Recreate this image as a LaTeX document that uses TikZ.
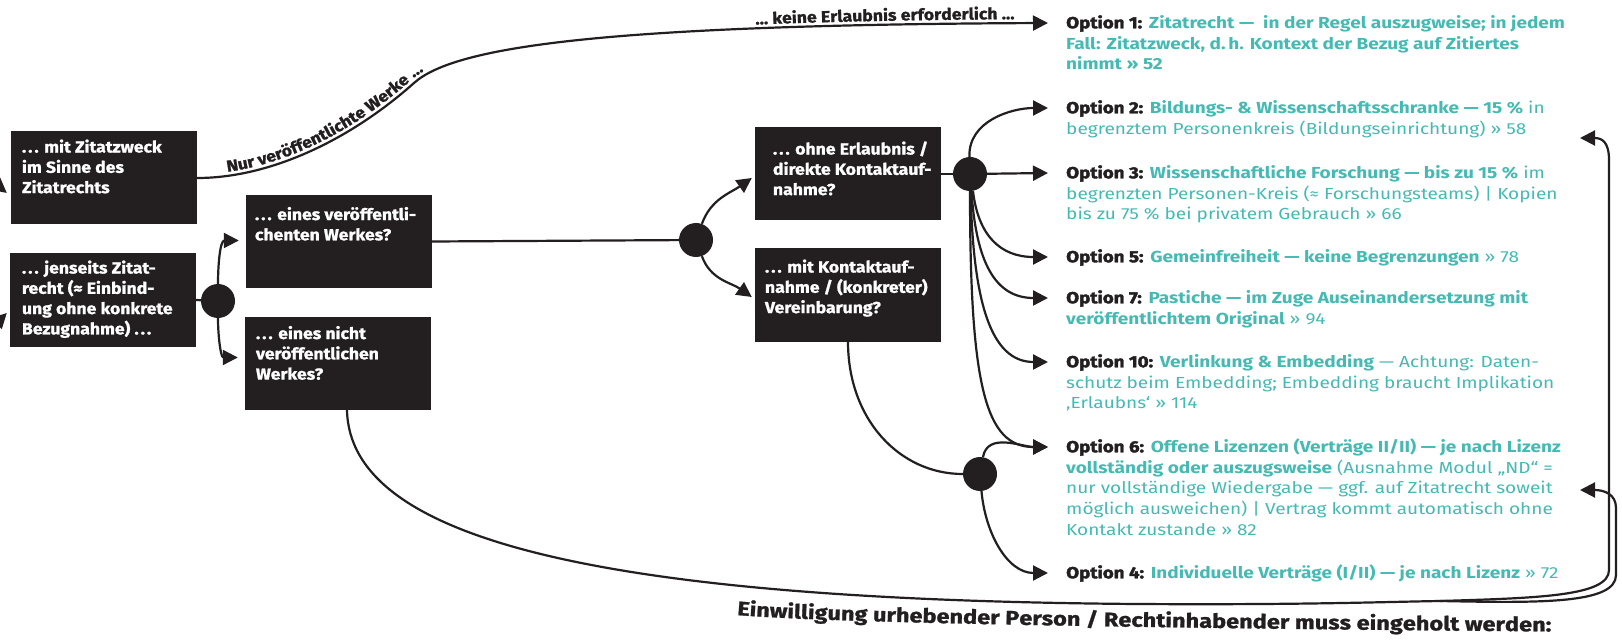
\documentclass[tikz,border=0pt]{standalone}
\usepackage{fontspec}
\setmainfont{Fira Sans}[UprightFeatures={FakeStretch=1.19}, BoldFeatures={FakeStretch=1.19}]
\newfontfamily\heavyfont{Fira Sans}[BoldFeatures={FakeStretch=1.17, FakeBold=2.5}]
\newfontfamily\boxfont{Fira Sans}[BoldFeatures={FakeStretch=1.10, FakeBold=1.2}]
\newfontfamily\widefont{Fira Sans}[BoldFeatures={FakeStretch=1.2, FakeBold=1.2}]
\usetikzlibrary{arrows.meta,decorations.text,calc}
\definecolor{ink}{HTML}{231F20}
\definecolor{tq}{HTML}{45BAB3}
\newcommand\lblfont{\color{ink}\boxfont\bfseries\fontsize{16}{19}\selectfont}
\newcommand\biglblfont{\color{ink}\widefont\bfseries\fontsize{19.6}{24}\selectfont}
\newcommand\onum[1]{{\color{ink}\heavyfont\bfseries #1}}
\newcommand\tb[1]{{\bfseries #1}}
\newcommand\ddd{.\kern2pt.\kern2pt.}
\tikzset{
  ln/.style={line width=2.2pt, draw=ink},
  conn/.style={ln, -{Triangle[length=15pt,width=15pt]}},
  box/.style={fill=ink, draw=none, minimum width=186pt, minimum height=93pt, inner sep=0pt},
  btxt/.style={anchor=north west, inner sep=0pt, align=left, text=white, font=\boxfont\bfseries\fontsize{16}{20.3}\selectfont},
  dot/.style={circle, fill=ink, minimum size=34pt, inner sep=0pt},
  opt/.style={anchor=north west, inner sep=0pt, align=left, text=tq, font=\fontsize{16}{20.8}\selectfont},
}
\begin{document}
\begin{tikzpicture}[x=1pt,y=1pt]
\fill[white] (0,0) rectangle (1622,-644);
\useasboundingbox (0,0) rectangle (1622,-644);

% boxes
\node[box] (A) at (104,-178) {};
\node[box] (B) at (103,-300) {};
\node[box] (C) at (339,-241.5) {};
\node[box] (D) at (338,-363.5) {};
\node[box] (E) at (848,-174) {};
\node[box] (F) at (848,-295) {};
\node[btxt] (At) at ([shift={(11,-6.8)}]A.north west) {\strut\ddd{} mit Zitatzweck\\im Sinne des\\Zitatrechts};
\node[btxt] (Bt) at ([shift={(12,-5.8)}]B.north west) {\strut\ddd{} jenseits Zitat-\\recht (≈ Einbind-\\ung ohne konkrete\\Bezugnahme) \ddd};
\node[btxt] (Ct) at ([shift={(9,-10.8)}]C.north west) {\strut\ddd{} eines veröffentli-\\chenten Werkes?};
\node[btxt] (Dt) at ([shift={(11,-7.8)}]D.north west) {\strut\ddd{} eines nicht\\veröffentlichen\\Werkes?};
\node[btxt] (Et) at ([shift={(18,-12.8)}]E.north west) {\strut\ddd{} ohne Erlaubnis /\\direkte Kontaktauf-\\nahme?};
\node[btxt] (Ft) at ([shift={(10,-9.8)}]F.north west) {\strut\ddd{} mit Kontaktauf-\\nahme / (konkreter)\\Vereinbarung?};

% junctions
\node[dot] (c1) at (218,-301) {};
\node[dot] (c2) at (696,-240) {};
\node[dot] (c3) at (970,-174) {};
\node[dot] (c4) at (980,-474) {};

% options
\node[opt] (o1) at (1066,-13.5) {\strut\onum{Option 1:} \tb{Zitatrecht —\ \ in der Regel auszugweise; in jedem}\\\tb{Fall: Zitatzweck, d.\,h. Kontext der Bezug auf Zitiertes}\\\tb{nimmt » 52}};
\node[opt] (o2) at (1066,-98.5) {\strut\onum{Option 2:} \tb{Bildungs- \& Wissenschaftsschranke — 15 \%} in\\begrenztem Personenkreis (Bildungseinrichtung) » 58};
\node[opt] (o3) at (1066,-163.5) {\strut\onum{Option 3:} \tb{Wissenschaftliche Forschung — bis zu 15 \%} im\\begrenzten Personen-Kreis (≈ Forschungsteams) | Kopien\\bis zu 75 \% bei privatem Gebrauch » 66};
\node[opt] (o5) at (1066,-247.5) {\strut\onum{Option 5:} \tb{Gemeinfreiheit — keine Begrenzungen} » 78};
\node[opt] (o7) at (1066,-288.5) {\strut\onum{Option 7:} \tb{Pastiche — im Zuge Auseinandersetzung mit}\\\tb{veröffentlichtem Original} » 94};
\node[opt] (o10) at (1066,-352.5) {\strut\onum{Option 10:} \tb{Verlinkung \& Embedding} — Achtung: Daten-\\schutz beim Embedding; Embedding braucht Implikation\\‚Erlaubns‘ » 114};
\node[opt] (o6) at (1066,-437.5) {\strut\onum{Option 6:} \tb{Offene Lizenzen (Verträge II/II) — je nach Lizenz}\\\tb{vollständig oder auszugsweise} (Ausnahme Modul „ND“ =\\nur vollständige Wiedergabe — ggf. auf Zitatrecht soweit\\möglich ausweichen) | Vertrag kommt automatisch ohne\\Kontakt zustande » 82};
\node[opt] (o4) at (1066,-563.5) {\strut\onum{Option 4:} \tb{Individuelle Verträge (I/II) — je nach Lizenz} » 72};

% free ends
\coordinate (inA) at (-14,-176);
\coordinate (inB) at (-14,-334);
\coordinate (r2) at (1580,-138);
\coordinate (r6) at (1580,-490);
\coordinate (split) at (1440,-601);

% incoming arrows at the left edge
\draw[conn] (inA) -- ([shift={(-4,-15)}]A.west);
\draw[conn] (inB) -- ([shift={(-3,-13)}]B.west);

% quotation path
\draw[conn,
  postaction={decorate, decoration={text along path, raise=4pt, text align={left indent=31pt},
     text={|\lblfont|Nur veröffentlichte Werke …}}},
  postaction={decorate, decoration={text along path, raise=4pt, text align={align=right, right indent=34pt},
     text={|\lblfont|… keine Erlaubnis erforderlich …}}}]
  (A.east) .. controls (270,-178) and (350,-140) .. (414,-83)
  .. controls (454,-47) and (600,-25) .. ($(o1.north west)+(-18,-9.5)$);

% beyond quotation
\draw[ln] (B.east) -- (c1);
\draw[conn] (c1) to[out=90,in=180] ([shift={(-7,1)}]C.west);
\draw[conn] (c1) to[out=-90,in=180] ([shift={(-7,6)}]D.west);

% published work
\draw[ln] (C.east) -- (c2);
\draw[conn] (c2) to[out=70,in=215] ([shift={(-3,-4)}]E.west);
\draw[conn] (c2) to[out=-70,in=145] ([shift={(-3,-2)}]F.west);

% without permission
\draw[ln] (E.east) -- (c3);
\draw[conn] (c3) to[out=92,in=180] ($(o2.north west)+(-18,-9.5)$);
\draw[conn] (c3) -- ($(o3.north west)+(-18,-9.5)$);
\draw[conn] (c3.-80) .. controls (978,-235) and (1000,-257) .. ($(o5.north west)+(-18,-9.5)$);
\draw[conn] (c3.-85) .. controls (976,-262) and (995,-298) .. ($(o7.north west)+(-18,-9.5)$);
\draw[conn] (c3.-88) .. controls (973,-300) and (990,-362) .. ($(o10.north west)+(-18,-9.5)$);
\draw[conn] (c3.-90) .. controls (970,-385) and (985,-447) .. ($(o6.north west)+(-18,-9.5)$);

% with contact
\draw[ln] (F.south) .. controls (848,-420) and (900,-474) .. (c4.west);
\draw[conn] (c4) to[out=80,in=180] ($(o6.north west)+(-18,-9.5)$);
\draw[conn] (c4) to[out=-85,in=180] ($(o4.north west)+(-18,-9.5)$);

% unpublished work: consent needed
\draw[ln] ([xshift=9]D.south) .. controls (350,-540) and (600,-600) .. (1138,-604) .. controls (1300,-605) and (1380,-602) .. (split);
\draw[conn] (split) .. controls (1540,-598) and (1609,-596) .. (1609,-570) -- (1609,-160) .. controls (1609,-142) and (1602,-138) .. (r2);
\draw[conn] (split) .. controls (1540,-603) and (1616,-604) .. (1616,-575) -- (1616,-508) .. controls (1616,-494) and (1604,-490) .. (r6);

\path[decorate, decoration={text along path, text align={left indent=0pt},
     text={|\biglblfont|Einwilligung urhebender Person / Rechtinhabender muss eingeholt werden:}}]
  (737,-615) .. controls (820,-622) and (1100,-628) .. (1621,-632);
\end{tikzpicture}
\end{document}
